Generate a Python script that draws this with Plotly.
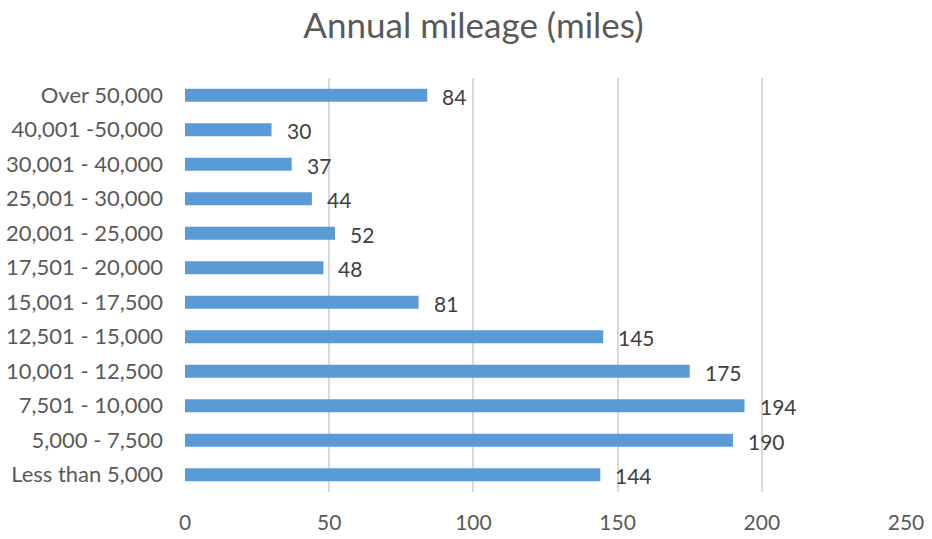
import plotly.graph_objects as go

# Survey responses by annual mileage band
categories = [
    "Less than 5,000", "5,000 - 7,500", "7,501 - 10,000", "10,001 - 12,500",
    "12,501 - 15,000", "15,001 - 17,500", "17,501 - 20,000", "20,001 - 25,000",
    "25,001 - 30,000", "30,001 - 40,000", "40,001 -50,000", "Over 50,000",
]
counts = [144, 190, 194, 175, 145, 81, 48, 52, 44, 37, 30, 84]
x_ticks = [0, 50, 100, 150, 200, 250]

FONT = "Lato"

fig = go.Figure(
    go.Bar(
        x=counts,
        y=categories,
        orientation="h",
        marker=dict(color="#5B9BD5", line=dict(width=0)),
        width=0.37,
        hoverinfo="x+y",
    )
)

# value labels just past each bar end
for c, v in zip(categories, counts):
    fig.add_annotation(
        x=v, y=c, text=str(v), showarrow=False,
        xanchor="left", yanchor="middle", xshift=13, yshift=-1,
        font=dict(family=FONT, size=21, color="#404040"),
    )

fig.update_layout(
    width=932, height=539,
    margin=dict(l=185, r=26, t=78, b=47),
    paper_bgcolor="white", plot_bgcolor="white",
    title=dict(
        text="Annual mileage (miles)",
        x=0.508, xanchor="center", y=0.952, yanchor="middle",
        font=dict(family=FONT, size=35, color="#595959"),
    ),
    showlegend=False,
    xaxis=dict(
        range=[0, 250], tickvals=x_ticks, showgrid=True,
        gridcolor="#D9D9D9", gridwidth=2, zeroline=False, showline=False,
        tickfont=dict(family=FONT, size=21, color="#595959"),
        ticklabelstandoff=16, automargin=False,
    ),
    yaxis=dict(
        categoryorder="array", categoryarray=categories,
        showgrid=False, zeroline=False, showline=False,
        tickfont=dict(family=FONT, size=22, color="#595959"),
        ticklabelstandoff=21, automargin=False,
    ),
)

fig.write_html("out.html")
